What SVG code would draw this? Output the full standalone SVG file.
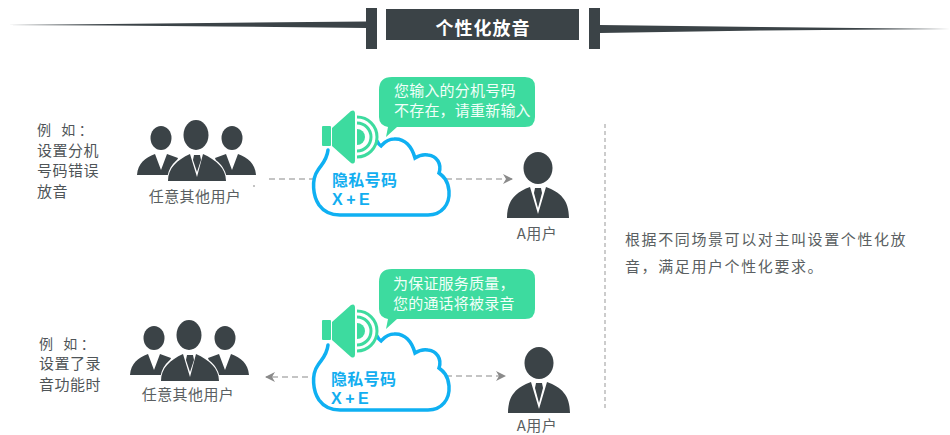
<svg xmlns="http://www.w3.org/2000/svg" width="950" height="435" viewBox="0 0 950 435">
<style>
text{font-family:"Noto Sans CJK SC","Liberation Sans",sans-serif}
.dark{fill:#3b4347}
.green{fill:#3ddb9f}
.lbl{font-size:15px;fill:#5a5f62;letter-spacing:.4px}
.note{font-size:15px;fill:#4f5558;letter-spacing:.5px}
.ex{font-size:14px;letter-spacing:3.500px}
.bub{font-size:15px;fill:#f2fff9;letter-spacing:.2px}
.cl{font-size:16px;font-weight:700;fill:#12aef0;letter-spacing:.3px}
.xe{font-family:"Liberation Sans",sans-serif;font-size:16px;font-weight:700;fill:#12aef0;letter-spacing:3.500px}
.desc{font-size:15px;fill:#5a5f62;letter-spacing:1.600px}
.conn{fill:none;stroke:#8a8a8a;stroke-width:1.200;stroke-dasharray:6 4}
</style>
<defs>
<marker id="arr" viewBox="0 0 10 10" refX="9" refY="5" markerWidth="10" markerHeight="10" orient="auto-start-reverse" markerUnits="userSpaceOnUse"><path d="M0 0L10 5L0 10L3 5Z" fill="#8a8a8a"/></marker>
<g id="person"><ellipse cx="538" cy="168" rx="14.500" ry="16" class="dark"/><path class="dark" d="M507 218C507 200 516 192 530 187L538 214L546 187C560 192 569 200 569 218Z"/><path class="dark" d="M535 188H541L542 193L538 208L534 193Z"/></g>
<g id="group">
<ellipse cx="161" cy="138" rx="10.500" ry="12" class="dark"/>
<path class="dark" d="M137 175C138 163 145 158 155 154L161 170L167 154L178 158L172 175Z"/>
<ellipse cx="232" cy="138" rx="10.500" ry="12" class="dark"/>
<path class="dark" d="M256 175C255 163 248 158 238 154L232 170L226 154L215 158L221 175Z"/>
<ellipse cx="196" cy="135" rx="12.500" ry="15" class="dark"/>
<path d="M167 182C167 167 176 158 189 153H203C216 158 227 167 227 182Z" fill="#fff"/>
<path class="dark" d="M168 181C168 168 177 160 190 154L197 177L203 154C216 160 226 168 226 181Z"/>
<path class="dark" d="M194 155H200L201 160L197 172L193 160Z"/>
</g>
<g id="speaker">
<rect x="322" y="126" width="9" height="20" rx="1" class="green"/>
<path class="green" d="M332 128L351 111Q355 109 355 114V160Q355 165 351 163L332 146Z"/>
<path d="M357 117A20 20 0 0 1 357 157M357 123A14 14 0 0 1 357 151" fill="none" stroke="#3ddb9f" stroke-width="3"/>
<path d="M357 129A8 8 0 0 1 357 145Z" class="green"/>
</g>
<path id="cloud" d="M328 150C327 160 322 164 318 170C311 180 313 196 319 205C324 212 331 215 340 215H428C442 215 450 204 449 191C448 180 443 176 439 173C442 164 437 156 428 155C422 154 418 156 415 158C412 147 405 138 394 139C387 139 384 143 381 146C379 145 378 143 377 141" fill="none" stroke="#0fb0f2" stroke-width="3.500" stroke-linecap="round"/>
</defs>

<g id="title">
<path class="dark" d="M7 25L110 24L366 21.500V28L220 26.500L110 25.500Z"/>
<path class="dark" d="M600 25L760 27L950 29L760 30.500L600 33Z"/>
<rect x="366" y="8" width="11" height="41" class="dark"/>
<rect x="589" y="8" width="11" height="41" class="dark"/>
<rect x="386" y="9" width="193" height="31" class="dark"/>
<text x="483" y="35" text-anchor="middle" font-size="18" font-weight="700" fill="#fff" letter-spacing="1">个性化放音</text>
</g>

<g id="connectors">
<path class="conn" d="M269 179H313"/>
<rect x="253" y="185.500" width="2" height="1" fill="#8a8a8a"/>
<path class="conn" d="M446 179H512" marker-end="url(#arr)"/>
<path class="conn" d="M308 377H266" marker-end="url(#arr)"/>
<path class="conn" d="M446 376H505" marker-end="url(#arr)"/>
<path d="M605 124V408" fill="none" stroke="#999" stroke-width="1" stroke-dasharray="4 3"/>
</g>

<g id="note1"><text class="note"><tspan class="ex" x="37" y="135">例 如：</tspan><tspan x="37" y="156">设置分机</tspan><tspan x="37" y="176">号码错误</tspan><tspan x="37" y="197">放音</tspan></text></g>
<g id="users1"><use href="#group"/><text class="lbl" x="195" y="202" text-anchor="middle">任意其他用户</text></g>
<g id="cloud1"><use href="#cloud"/><use href="#speaker"/>
<text class="cl" x="332" y="186">隐私号码</text><text class="xe" x="332" y="205">X+E</text></g>
<g id="bubble1"><path class="green" d="M392 77H525Q535 77 535 87V117Q535 127 525 127H397L386 137L388 127Q379 125 379 117V90Q379 77 392 77Z"/>
<text class="bub"><tspan x="394" y="96">您输入的分机号码</tspan><tspan x="394" y="116">不存在，请重新输入</tspan></text></g>
<g id="userA1"><use href="#person"/><text class="lbl" x="537" y="239" text-anchor="middle">A用户</text></g>

<g id="note2"><text class="note"><tspan class="ex" x="39" y="349">例 如：</tspan><tspan x="39" y="369">设置了录</tspan><tspan x="39" y="390">音功能时</tspan></text></g>
<g id="users2"><use href="#group" transform="translate(-7 200)"/><text class="lbl" x="188" y="400" text-anchor="middle">任意其他用户</text></g>
<g id="cloud2"><use href="#cloud" transform="translate(0 195)"/><use href="#speaker" transform="translate(0 194)"/>
<text class="cl" x="331" y="385">隐私号码</text><text class="xe" x="331" y="404">X+E</text></g>
<g id="bubble2"><path class="green" d="M392 269H525Q535 269 535 279V309Q535 319 525 319H397L386 329L388 319Q379 317 379 309V282Q379 269 392 269Z"/>
<text class="bub"><tspan x="393" y="289">为保证服务质量，</tspan><tspan x="393" y="309">您的通话将被录音</tspan></text></g>
<g id="userA2"><use href="#person" transform="translate(1 195)"/><text class="lbl" x="537" y="431" text-anchor="middle">A用户</text></g>

<g id="desc"><text class="desc"><tspan x="625" y="245">根据不同场景可以对主叫设置个性化放</tspan><tspan x="625" y="272">音，满足用户个性化要求。</tspan></text></g>
</svg>
